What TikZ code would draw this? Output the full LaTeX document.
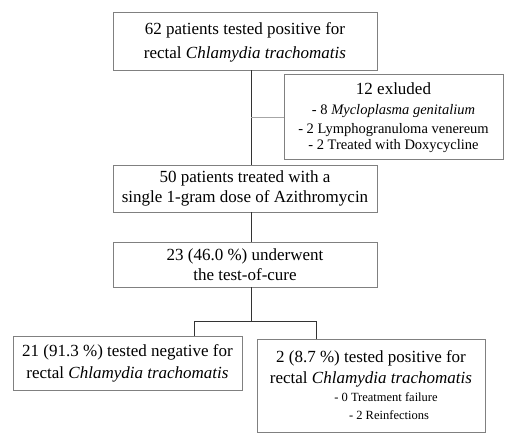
\documentclass[tikz,border=0pt]{standalone}
\usepackage{fontspec}
\setmainfont{Liberation Serif}
\begin{document}
\begin{tikzpicture}[x=1pt,y=-1pt,
  box/.style={draw=black!50, line width=0.9pt, fill=white, align=center, inner sep=0pt},
  conn/.style={draw=black!80, line width=1pt},
  gconn/.style={draw=black!35, line width=1pt}]
\useasboundingbox (0,0) rectangle (506,442);
\node[box, minimum width=264pt, minimum height=58pt, font=\fontsize{17}{23.5}\selectfont] (b1) at (245,41) {\rule{0pt}{15pt}62 patients tested positive for\\rectal \textit{Chlamydia trachomatis}};
\node[box, minimum width=219pt, minimum height=85pt, font=\fontsize{17}{19}\selectfont] (b2) at (393.5,116.5) {\rule{0pt}{15pt}12 exluded\\[1pt]{\fontsize{14.5}{18}\selectfont - 8 \textit{Mycloplasma genitalium}}\\{\fontsize{14.5}{18}\selectfont - 2 Lymphogranuloma venereum}\\[-3pt]{\fontsize{14.5}{18}\selectfont - 2 Treated with Doxycycline}};
\node[box, minimum width=264pt, minimum height=47pt, font=\fontsize{17}{20}\selectfont] (b3) at (245,188.5) {50 patients treated with a\\single 1-gram dose of Azithromycin};
\node[box, minimum width=264pt, minimum height=45pt, font=\fontsize{17}{20}\selectfont] (b4) at (245,264.5) {23 (46.0 \%) underwent\\the test-of-cure};
\node[box, minimum width=229pt, minimum height=54pt, font=\fontsize{17}{22}\selectfont] (b5) at (127.5,363) {21 (91.3 \%) tested negative for\\rectal \textit{Chlamydia trachomatis}};
\node[box, minimum width=228pt, minimum height=93pt, font=\fontsize{17}{21}\selectfont] (b6) at (371,385.5) {2 (8.7 \%) tested positive for\\rectal \textit{Chlamydia trachomatis}\\[-3pt]{\fontsize{12.5}{14}\selectfont\hspace*{30pt}- 0 Treatment failure}\\[-3pt]{\fontsize{12.5}{14}\selectfont\hspace*{36pt}- 2 Reinfections}};
\coordinate (j) at (251,117);
\coordinate (s) at (251,321);
\coordinate (sl) at (194,321);
\coordinate (sr) at (316,321);
\draw[conn] ([xshift=6pt]b1.south) -- ([xshift=6pt]b3.north);
\draw[gconn] (j) -- (b2.west |- j);
\draw[conn] ([xshift=6pt]b3.south) -- ([xshift=6pt]b4.north);
\draw[conn] ([xshift=6pt]b4.south) -- (s);
\draw[conn] (sl) -- (sr);
\draw[conn] (sl) -- (sl |- b5.north);
\draw[conn] (sr) -- (sr |- b6.north);
\end{tikzpicture}
\end{document}
